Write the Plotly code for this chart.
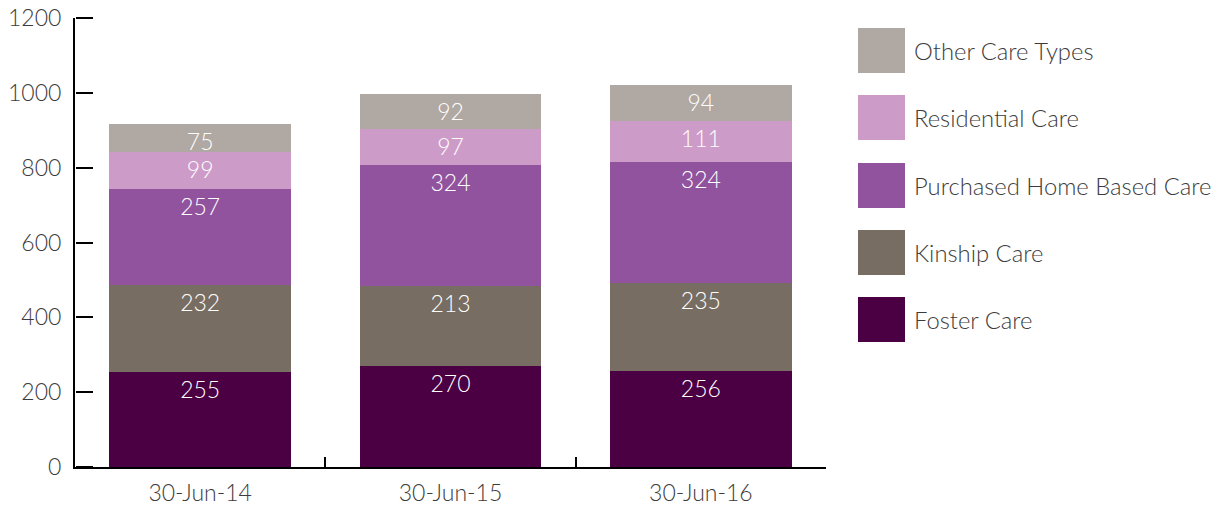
import plotly.graph_objects as go

categories = ["30-Jun-14", "30-Jun-15", "30-Jun-16"]
foster = [255, 270, 256]
kinship = [232, 213, 235]
purchased = [257, 324, 324]
residential = [99, 97, 111]
other = [75, 92, 94]

series_names = ["Foster Care", "Kinship Care", "Purchased Home Based Care",
                "Residential Care", "Other Care Types"]
series_values = [foster, kinship, purchased, residential, other]
series_colors = ["#4A0042", "#786D62", "#91529E", "#CD9BC8", "#B0A8A2"]
y_max = 1200
y_step = 200

FONT = dict(family="Lato, 'Open Sans', sans-serif", weight=300)
FS = 23
LEG_FS = 23.8
TXT = "#3c3c3c"

fig = go.Figure()
for name, vals, col in zip(series_names, series_values, series_colors):
    fig.add_trace(go.Bar(
        x=categories, y=vals, name=name, marker=dict(color=col, line=dict(width=0)),
        text=[str(v) for v in vals], textposition="inside", insidetextanchor="end",
        textangle=0, constraintext="none",
        textfont=dict(color="white", size=FS, **FONT),
        showlegend=False, hoverinfo="x+y+name",
    ))
# empty helper trace so the tick-only overlay axis is rendered
fig.add_trace(go.Scatter(x=[], y=[], yaxis="y2", showlegend=False, hoverinfo="skip"))

W, H = 1217, 505
L, R, T, B = 75, 826, 18, 467
fig.update_layout(
    width=W, height=H, barmode="stack", bargap=0.275,
    margin=dict(l=L, r=W - R, t=T, b=H - B, autoexpand=False),
    plot_bgcolor="white", paper_bgcolor="white",
    font=dict(color=TXT, size=FS, **FONT),
    xaxis=dict(range=[-0.5, 2.5], showline=True, linecolor="black", linewidth=2,
               ticks="inside", tickson="boundaries", ticklen=10, tickwidth=2,
               tickcolor="black", showgrid=False, zeroline=False,
               ticklabelstandoff=4,
               tickfont=dict(size=FS, color=TXT, **FONT)),
    yaxis=dict(range=[0, y_max], tick0=0, dtick=y_step, showline=True,
               linecolor="black", linewidth=2, ticks="", showgrid=False,
               zeroline=False, ticklabeloverflow="allow", ticklabelstandoff=7,
               tickfont=dict(size=FS, color=TXT, **FONT)),
    yaxis2=dict(range=[0, y_max], tick0=0, dtick=y_step, overlaying="y",
                anchor="free", position=0, side="right", showline=False,
                ticks="outside", ticklen=17, tickwidth=2, tickcolor="black",
                showticklabels=False, showgrid=False, zeroline=False),
)

# legend drawn with shapes and annotations (large swatches), top to bottom
pw = R - L
ph = B - T
def px2x(px):
    return (px - L) / pw
def py2y(py):
    return (B - py) / ph

legend_top = [28, 95, 163, 230, 297]
for i, top in enumerate(legend_top):
    idx = len(series_names) - 1 - i
    fig.add_shape(type="rect", xref="paper", yref="paper",
                  x0=px2x(858), x1=px2x(905), y0=py2y(top + 45), y1=py2y(top),
                  fillcolor=series_colors[idx], line=dict(width=0))
    fig.add_annotation(xref="paper", yref="paper", x=px2x(912), y=py2y(top + 23),
                       text=series_names[idx], showarrow=False, xanchor="left",
                       yanchor="middle", font=dict(size=LEG_FS, color=TXT, **FONT))

fig.write_html("out.html", config={"displayModeBar": False},
               post_script="document.body.style.margin='0';document.body.style.overflow='hidden';")
